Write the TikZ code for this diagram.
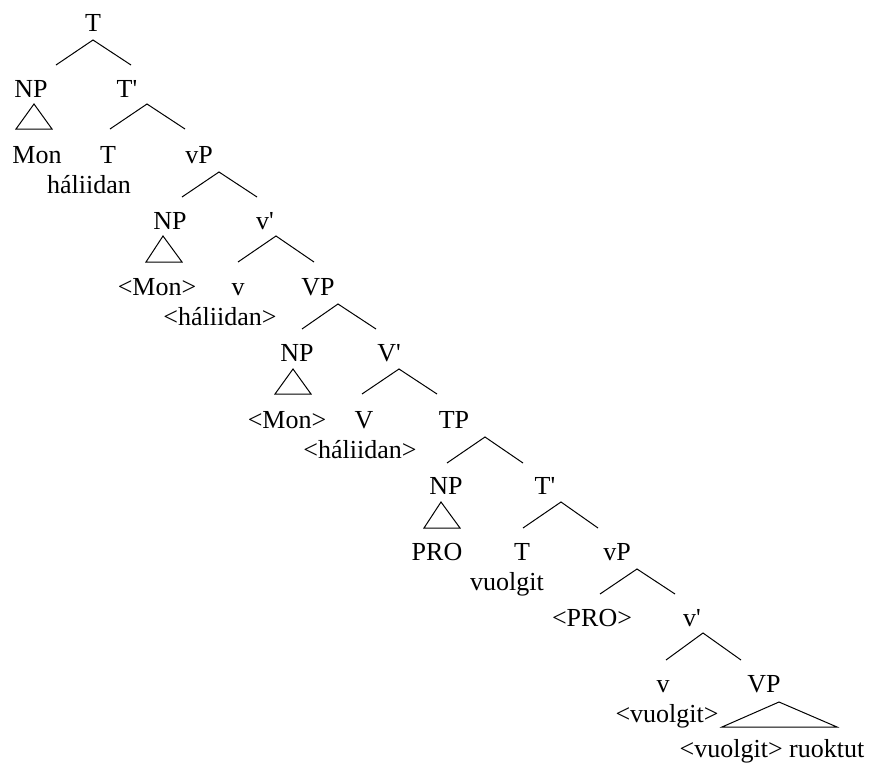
\documentclass[tikz,border=0pt]{standalone}
\usepackage{fontspec}
\setmainfont{Liberation Serif}
\begin{document}
\begin{tikzpicture}[x=1pt,y=-1pt,
  lab/.style={font=\fontsize{26}{28}\selectfont, inner sep=0pt, anchor=base},
  edge/.style={line width=1pt}]
\useasboundingbox (0,0) rectangle (870,763);
\newcommand{\pr}{\textquotesingle}
% labels
\node[lab] (t0) at (93,31) {T};
\node[lab] (np1) at (31,97) {NP};
\node[lab] (tb1) at (127,97) {T\pr};
\node[lab] (mon2) at (37,163) {Mon};
\node[lab] (t2) at (108,163) {T};
\node[lab] (vp2) at (199,163) {vP};
\node[lab] (hal2) at (89,193) {háliidan};
\node[lab] (np3) at (170,229) {NP};
\node[lab] (vb3) at (265,229) {v\pr};
\node[lab] (mon4) at (157,295) {\textless Mon\textgreater};
\node[lab] (v4) at (238,295) {v};
\node[lab] (VP4) at (318,295) {VP};
\node[lab] (hal4) at (220,325) {\textless háliidan\textgreater};
\node[lab] (np5) at (297,361) {NP};
\node[lab] (Vb5) at (389,361) {V\pr};
\node[lab] (mon6) at (287,428) {\textless Mon\textgreater};
\node[lab] (V6) at (364,428) {V};
\node[lab] (tp6) at (454,428) {TP};
\node[lab] (hal6) at (360,458) {\textless háliidan\textgreater};
\node[lab] (np7) at (446,494) {NP};
\node[lab] (tb7) at (545,494) {T\pr};
\node[lab] (pro8) at (437,560) {PRO};
\node[lab] (t8) at (522,560) {T};
\node[lab] (vp8) at (617,560) {vP};
\node[lab] (vuo8) at (507,590) {vuolgit};
\node[lab] (pro9) at (592,626) {\textless PRO\textgreater};
\node[lab] (vb9) at (692,626) {v\pr};
\node[lab] (v10) at (663,692) {v};
\node[lab] (VP10) at (764,692) {VP};
\node[lab] (vuo10) at (667,722) {\textless vuolgit\textgreater};
\node[lab] (last) at (772,757) {\textless vuolgit\textgreater{} ruoktut};
% branch points
\coordinate (a0) at (93,40);   \coordinate (a0l) at (56,65);   \coordinate (a0r) at (131,65);
\coordinate (a1) at (147,104); \coordinate (a1l) at (110,129); \coordinate (a1r) at (185,129);
\coordinate (a2) at (219,172); \coordinate (a2l) at (182,197); \coordinate (a2r) at (257,197);
\coordinate (a3) at (276,236); \coordinate (a3l) at (238,262); \coordinate (a3r) at (314,262);
\coordinate (a4) at (338,304); \coordinate (a4l) at (302,329); \coordinate (a4r) at (376,329);
\coordinate (a5) at (399,369); \coordinate (a5l) at (362,394); \coordinate (a5r) at (437,394);
\coordinate (a6) at (485,437); \coordinate (a6l) at (447,463); \coordinate (a6r) at (523,463);
\coordinate (a7) at (561,502); \coordinate (a7l) at (523,528); \coordinate (a7r) at (598,528);
\coordinate (a8) at (637,569); \coordinate (a8l) at (600,594); \coordinate (a8r) at (675,594);
\coordinate (a9) at (703,633); \coordinate (a9l) at (666,660); \coordinate (a9r) at (741,660);
\foreach \i in {0,...,9} {\draw[edge] (a\i l) -- (a\i) -- (a\i r);}
% triangles
\coordinate (g1) at (34,104);  \coordinate (g1l) at (16,129);  \coordinate (g1r) at (52,129);
\coordinate (g3) at (163,236); \coordinate (g3l) at (146,262); \coordinate (g3r) at (182,262);
\coordinate (g5) at (293,369); \coordinate (g5l) at (275,394); \coordinate (g5r) at (311,394);
\coordinate (g7) at (441,502); \coordinate (g7l) at (424,528); \coordinate (g7r) at (460,528);
\coordinate (g10) at (779,702); \coordinate (g10l) at (722,727); \coordinate (g10r) at (837,727);
\foreach \i in {1,3,5,7,10} {\draw[edge] (g\i) -- (g\i l) -- (g\i r) -- cycle;}
\end{tikzpicture}
\end{document}
